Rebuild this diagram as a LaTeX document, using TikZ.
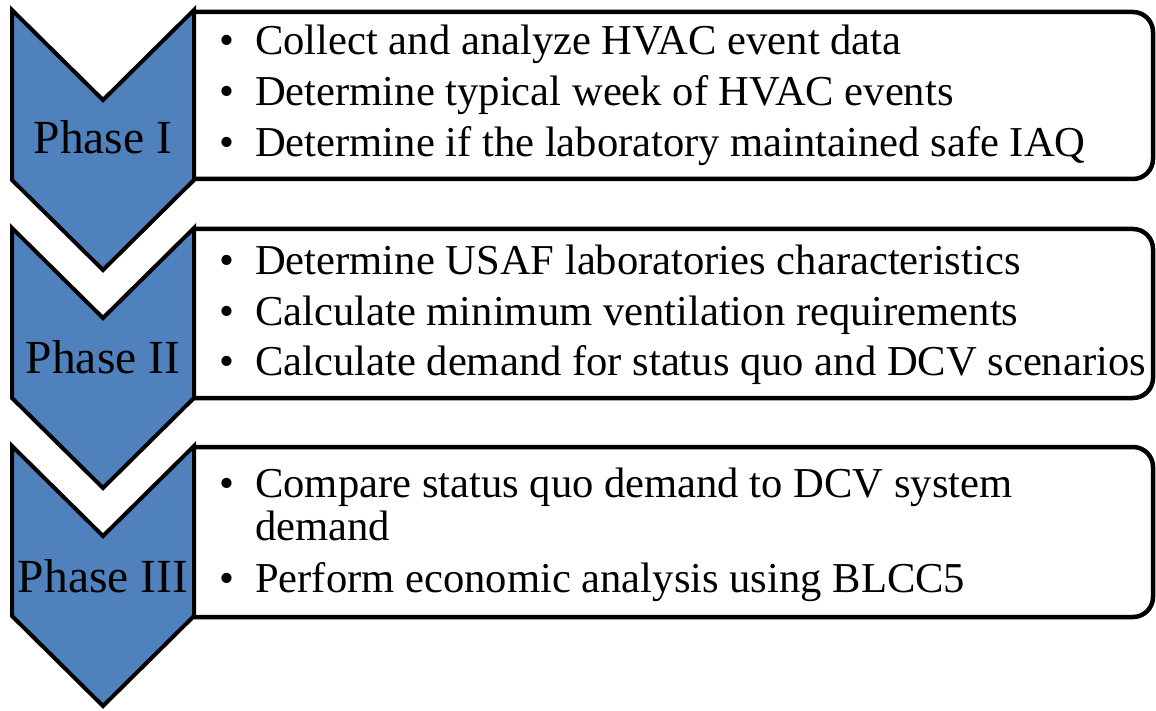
\documentclass[tikz,border=0pt]{standalone}
\usepackage{fontspec}
\setmainfont{Liberation Serif}
\definecolor{chevblue}{HTML}{4F81BD}
\begin{document}
\begin{tikzpicture}[x=1pt,y=-1pt,
  chev/.style={fill=chevblue,draw=black,line width=4pt,line join=miter},
  boxline/.style={draw=black,line width=4.5pt,rounded corners=20pt},
  phase/.style={anchor=base,inner sep=0pt,font=\fontsize{47.5}{47.5}\selectfont},
  txt/.style={anchor=base west,inner sep=0pt,font=\fontsize{42.6}{42.6}\selectfont},
  bul/.style={anchor=base,inner sep=0pt,font=\fontsize{42.6}{42.6}\selectfont}]
\useasboundingbox (0,0) rectangle (1156,711);
% boxes
\foreach \t/\b in {12/179, 229/398, 447/617}{
  \draw[boxline] (194,\t) -- (1153,\t) -- (1153,\b) -- (194,\b);
}
% chevrons
\foreach \t in {10, 228, 446}{
  \draw[chev] (12,\t) -- (103,\t+90) -- (194,\t) -- (194,\t+170) -- (103,\t+260) -- (12,\t+170) -- cycle;
}
% phase labels
\node[phase] (p1) at (103,154) {Phase I};
\node[phase] (p2) at (103,373) {Phase II};
\node[phase] (p3) at (103,592) {Phase III};
% box 1
\node[bul] (u1a) at (227,55) {\textbullet};
\node[txt] (t1a) at (255,55) {Collect and analyze HVAC event data};
\node[bul] (u1b) at (227,106) {\textbullet};
\node[txt] (t1b) at (255,106) {Determine typical week of HVAC events};
\node[bul] (u1c) at (227,157) {\textbullet};
\node[txt] (t1c) at (255,157) {Determine if the laboratory maintained safe IAQ};
% box 2
\node[bul] (u2a) at (227,275) {\textbullet};
\node[txt] (t2a) at (255,275) {Determine USAF laboratories characteristics};
\node[bul] (u2b) at (227,325) {\textbullet};
\node[txt] (t2b) at (255,325) {Calculate minimum ventilation requirements};
\node[bul] (u2c) at (227,375) {\textbullet};
\node[txt] (t2c) at (255,375) {Calculate demand for status quo and DCV scenarios};
% box 3
\node[bul] (u3a) at (227,497) {\textbullet};
\node[txt] (t3a) at (255,497) {Compare status quo demand to DCV system};
\node[txt] (t3b) at (255,540) {demand};
\node[bul] (u3c) at (227,592) {\textbullet};
\node[txt] (t3c) at (255,592) {Perform economic analysis using BLCC5};
\end{tikzpicture}
\end{document}
